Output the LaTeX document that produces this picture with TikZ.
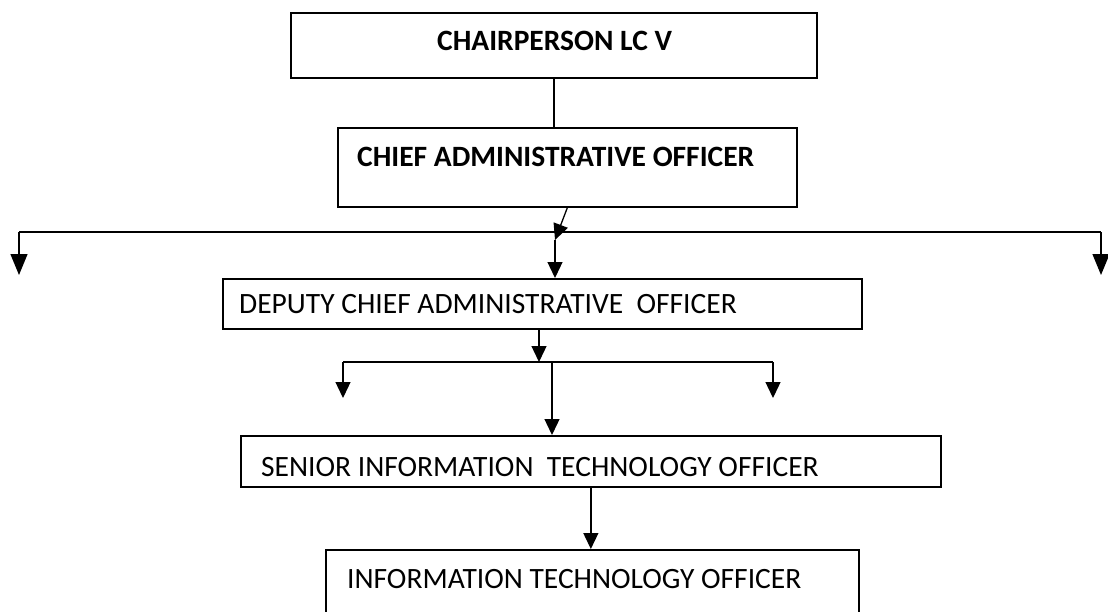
\documentclass[tikz,border=0pt]{standalone}
\usepackage{fontspec}
\setmainfont{Carlito}
\usetikzlibrary{arrows.meta}

\begin{document}
\begin{tikzpicture}[x=1pt,y=-1pt,
  box/.style={draw=black,line width=1.7pt,rectangle,inner sep=0pt,anchor=north west},
  lbl/.style={inner sep=0pt,anchor=base west,font=\fontsize{29.5}{34}\selectfont},
  conn/.style={draw=black,line width=1.3pt},
  arr/.style={conn,-{Triangle[length=16pt,width=15pt]}},
  bigarr/.style={conn,-{Triangle[length=21pt,width=17pt]}}]
  \useasboundingbox (0,0) rectangle (1108,611);
  \fill[white] (0,0) rectangle (1108,611);
  \clip (0,0) rectangle (1108,611);

  % boxes
  \node[box,minimum width=526pt,minimum height=65pt] (b1) at (290,12) {};
  \node[box,minimum width=459pt,minimum height=79pt] (b2) at (337,127) {};
  \node[box,minimum width=639pt,minimum height=50pt] (b3) at (222,278) {};
  \node[box,minimum width=700pt,minimum height=51pt] (b4) at (240,435) {};
  \node[box,minimum width=533pt,minimum height=95pt] (b5) at (325,549) {};

  % labels
  \node[lbl] (t1) at (437,50) {\bfseries CHAIRPERSON LC V};
  \node[lbl] (t2) at (357,166) {\bfseries CHIEF ADMINISTRATIVE OFFICER};
  \node[lbl] (t3) at (239,313) {DEPUTY CHIEF ADMINISTRATIVE\ \ OFFICER};
  \node[lbl] (t4) at (261,476) {SENIOR INFORMATION\ \ TECHNOLOGY OFFICER};
  \node[lbl] (t5) at (347,588) {INFORMATION TECHNOLOGY OFFICER};

  % junction points
  \coordinate (j1) at (555,240);
  \coordinate (busL) at (19,232);
  \coordinate (busR) at (1101,232);
  \coordinate (dropL) at (19,275);
  \coordinate (dropR) at (1101,275);
  \coordinate (j2) at (539,362);
  \coordinate (bus2L) at (343,362);
  \coordinate (bus2R) at (773,362);
  \coordinate (bus2M) at (552,362);
  \coordinate (drop2L) at (343,398);
  \coordinate (drop2R) at (773,398);

  % chairperson to chief administrative officer
  \draw[conn] (b1.south) -- (b1.south |- b2.north);

  % chief administrative officer to the first bus
  \draw[arr] (b2.south) -- (j1);
  \draw[conn] (busL) -- (busR);
  \draw[bigarr] (busL) -- (dropL);
  \draw[bigarr] (busR) -- (dropR);
  \draw[arr] (j1) -- (j1 |- b3.north);

  % deputy to the second bus
  \draw[arr] (j2 |- b3.south) -- (j2);
  \draw[conn] (bus2L) -- (bus2R);
  \draw[arr] (bus2L) -- (drop2L);
  \draw[arr] (bus2R) -- (drop2R);
  \draw[arr] (bus2M) -- (bus2M |- b4.north);

  % senior IT officer to IT officer
  \draw[arr] (b4.south) -- (b4.south |- b5.north);
\end{tikzpicture}
\end{document}
